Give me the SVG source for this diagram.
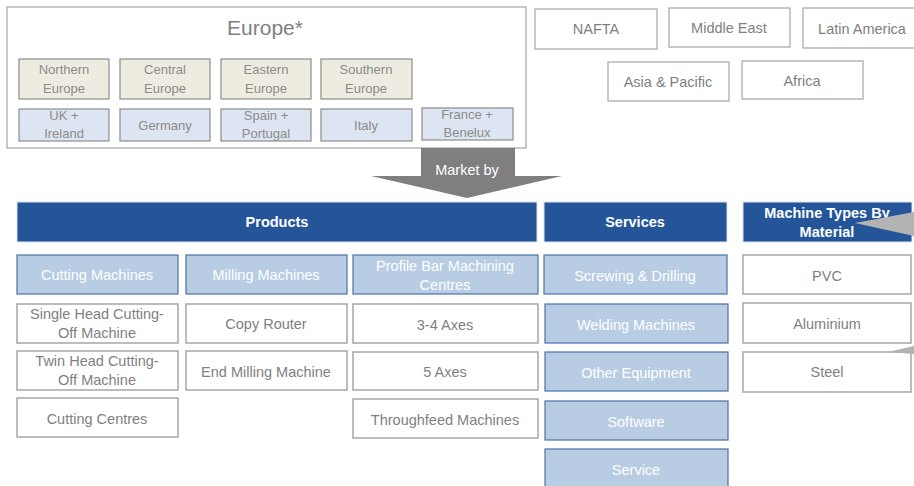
<svg xmlns="http://www.w3.org/2000/svg" width="914" height="486" viewBox="0 0 914 486">
<style>
text{font-family:"Liberation Sans",Arial,sans-serif;text-anchor:middle}
.frame{fill:#fff;stroke:#a6a6a6;stroke-width:1.2}
.beige{fill:#eeebe0;stroke:#8c8c8c;stroke-width:1.2}
.pale{fill:#dce5f1;stroke:#8c8c8c;stroke-width:1.2}
.wbox{fill:#fff;stroke:#a6a6a6;stroke-width:1.5}
.hdr{fill:#245598;stroke:#dbe3ef;stroke-width:1}
.sub{fill:#b8cce4;stroke:#4a72a8;stroke-width:1.2}
.t13{font-size:13px;fill:#8c8c8c}
.t14{font-size:14.5px;fill:#7f7f7f}
.tw{font-size:14.5px;fill:#ffffff}
.th{font-size:14.5px;fill:#ffffff;font-weight:bold}
.wedge{fill:#b3b3b3}
</style>

<g id="europe">
<rect class="frame" x="7" y="7" width="519" height="141"/>
<text x="265" y="35" style="font-size:21px;fill:#808080">Europe*</text>
</g>
<g id="northern-europe"><rect class="beige" x="19" y="59" width="90" height="40"/><text class="t13" x="64" y="74">Northern</text><text class="t13" x="64" y="93">Europe</text></g>
<g id="central-europe"><rect class="beige" x="120" y="59" width="90" height="40"/><text class="t13" x="165" y="74">Central</text><text class="t13" x="165" y="93">Europe</text></g>
<g id="eastern-europe"><rect class="beige" x="221" y="59" width="90" height="40"/><text class="t13" x="266" y="74">Eastern</text><text class="t13" x="266" y="93">Europe</text></g>
<g id="southern-europe"><rect class="beige" x="321" y="59" width="91" height="40"/><text class="t13" x="366" y="74">Southern</text><text class="t13" x="366" y="93">Europe</text></g>
<g id="uk-ireland"><rect class="pale" x="19" y="109" width="90" height="32"/><text class="t13" x="64" y="120">UK +</text><text class="t13" x="64" y="138">Ireland</text></g>
<g id="germany"><rect class="pale" x="120" y="109" width="90" height="32"/><text class="t13" x="165" y="130">Germany</text></g>
<g id="spain-portugal"><rect class="pale" x="221" y="109" width="90" height="32"/><text class="t13" x="266" y="120">Spain +</text><text class="t13" x="266" y="138">Portugal</text></g>
<g id="italy"><rect class="pale" x="321" y="109" width="91" height="32"/><text class="t13" x="366" y="130">Italy</text></g>
<g id="france-benelux"><rect class="pale" x="422" y="108" width="91" height="32"/><text class="t13" x="467" y="119">France +</text><text class="t13" x="467" y="137">Benelux</text></g>

<g id="nafta"><rect class="frame" x="535" y="9" width="122" height="40"/><text class="t14" x="596" y="34">NAFTA</text></g>
<g id="middle-east"><rect class="frame" x="669" y="8" width="121" height="39"/><text class="t14" x="729" y="33">Middle East</text></g>
<g id="latin-america"><rect class="frame" x="803" y="8" width="114" height="40"/><text class="t14" x="862" y="34">Latin America</text></g>
<g id="asia-pacific"><rect class="frame" x="608" y="62" width="121" height="39"/><text class="t14" x="668" y="87">Asia &amp; Pacific</text></g>
<g id="africa"><rect class="frame" x="742" y="61" width="121" height="38"/><text class="t14" x="802" y="86">Africa</text></g>

<g id="products"><rect class="hdr" x="17" y="202" width="520" height="40"/><text class="th" x="277" y="227">Products</text></g>
<g id="services"><rect class="hdr" x="544" y="202" width="183" height="40"/><text class="th" x="635" y="227">Services</text></g>
<g id="machine-types"><rect class="hdr" x="743" y="202" width="169" height="40"/><text class="th" x="827" y="218">Machine Types By</text><text class="th" x="827" y="237">Material</text></g>

<g id="cutting-machines"><rect class="sub" x="17" y="255" width="161" height="39"/><text class="tw" x="97" y="280">Cutting Machines</text></g>
<g id="milling-machines"><rect class="sub" x="186" y="255" width="161" height="39"/><text class="tw" x="266" y="280">Milling Machines</text></g>
<g id="profile-bar"><rect class="sub" x="353" y="255" width="185" height="39"/><text class="tw" x="445" y="271">Profile Bar Machining</text><text class="tw" x="445" y="290">Centres</text></g>
<g id="screwing-drilling"><rect class="sub" x="544" y="255" width="183" height="39"/><text class="tw" x="635" y="281">Screwing &amp; Drilling</text></g>

<g id="single-head"><rect class="wbox" x="17" y="304" width="161" height="39"/><text class="t14" x="97" y="319">Single Head Cutting-</text><text class="t14" x="97" y="338">Off Machine</text></g>
<g id="copy-router"><rect class="wbox" x="186" y="304" width="161" height="39"/><text class="t14" x="266" y="329">Copy Router</text></g>
<g id="axes-3-4"><rect class="wbox" x="353" y="304" width="185" height="39"/><text class="t14" x="445" y="330">3-4 Axes</text></g>
<g id="welding-machines"><rect class="sub" x="545" y="304" width="183" height="39"/><text class="tw" x="636" y="330">Welding Machines</text></g>

<g id="twin-head"><rect class="wbox" x="17" y="351" width="161" height="39"/><text class="t14" x="97" y="366">Twin Head Cutting-</text><text class="t14" x="97" y="385">Off Machine</text></g>
<g id="end-milling"><rect class="wbox" x="186" y="351" width="161" height="39"/><text class="t14" x="266" y="377">End Milling Machine</text></g>
<g id="axes-5"><rect class="wbox" x="353" y="352" width="185" height="38"/><text class="t14" x="445" y="377">5 Axes</text></g>
<g id="other-equipment"><rect class="sub" x="545" y="352" width="183" height="39"/><text class="tw" x="636" y="378">Other Equipment</text></g>

<g id="cutting-centres"><rect class="wbox" x="17" y="398" width="161" height="39"/><text class="t14" x="97" y="424">Cutting Centres</text></g>
<g id="throughfeed"><rect class="wbox" x="353" y="399" width="185" height="39"/><text class="t14" x="445" y="425">Throughfeed Machines</text></g>
<g id="software"><rect class="sub" x="545" y="401" width="183" height="39"/><text class="tw" x="636" y="427">Software</text></g>
<g id="service"><rect class="sub" x="545" y="449" width="183" height="45"/><text class="tw" x="636" y="475">Service</text></g>

<g id="pvc"><rect class="wbox" x="743" y="255" width="168" height="39"/><text class="t14" x="827" y="281">PVC</text></g>
<g id="aluminium"><rect class="wbox" x="743" y="303" width="168" height="40"/><text class="t14" x="827" y="329">Aluminium</text></g>
<g id="steel"><rect class="wbox" x="743" y="352" width="168" height="40"/><text class="t14" x="827" y="377">Steel</text></g>

<g id="connectors">
<polygon points="421,148 515,148 515,176 562,176 467,198 371,176 421,176" fill="#7f7f7f"/>
<text x="467" y="175" style="font-size:14.5px;fill:#ffffff">Market by</text>
<polygon class="wedge" points="855,223 914,212 914,236"/>
<polygon class="wedge" points="888,352 914,346 914,354"/>
</g>
</svg>
